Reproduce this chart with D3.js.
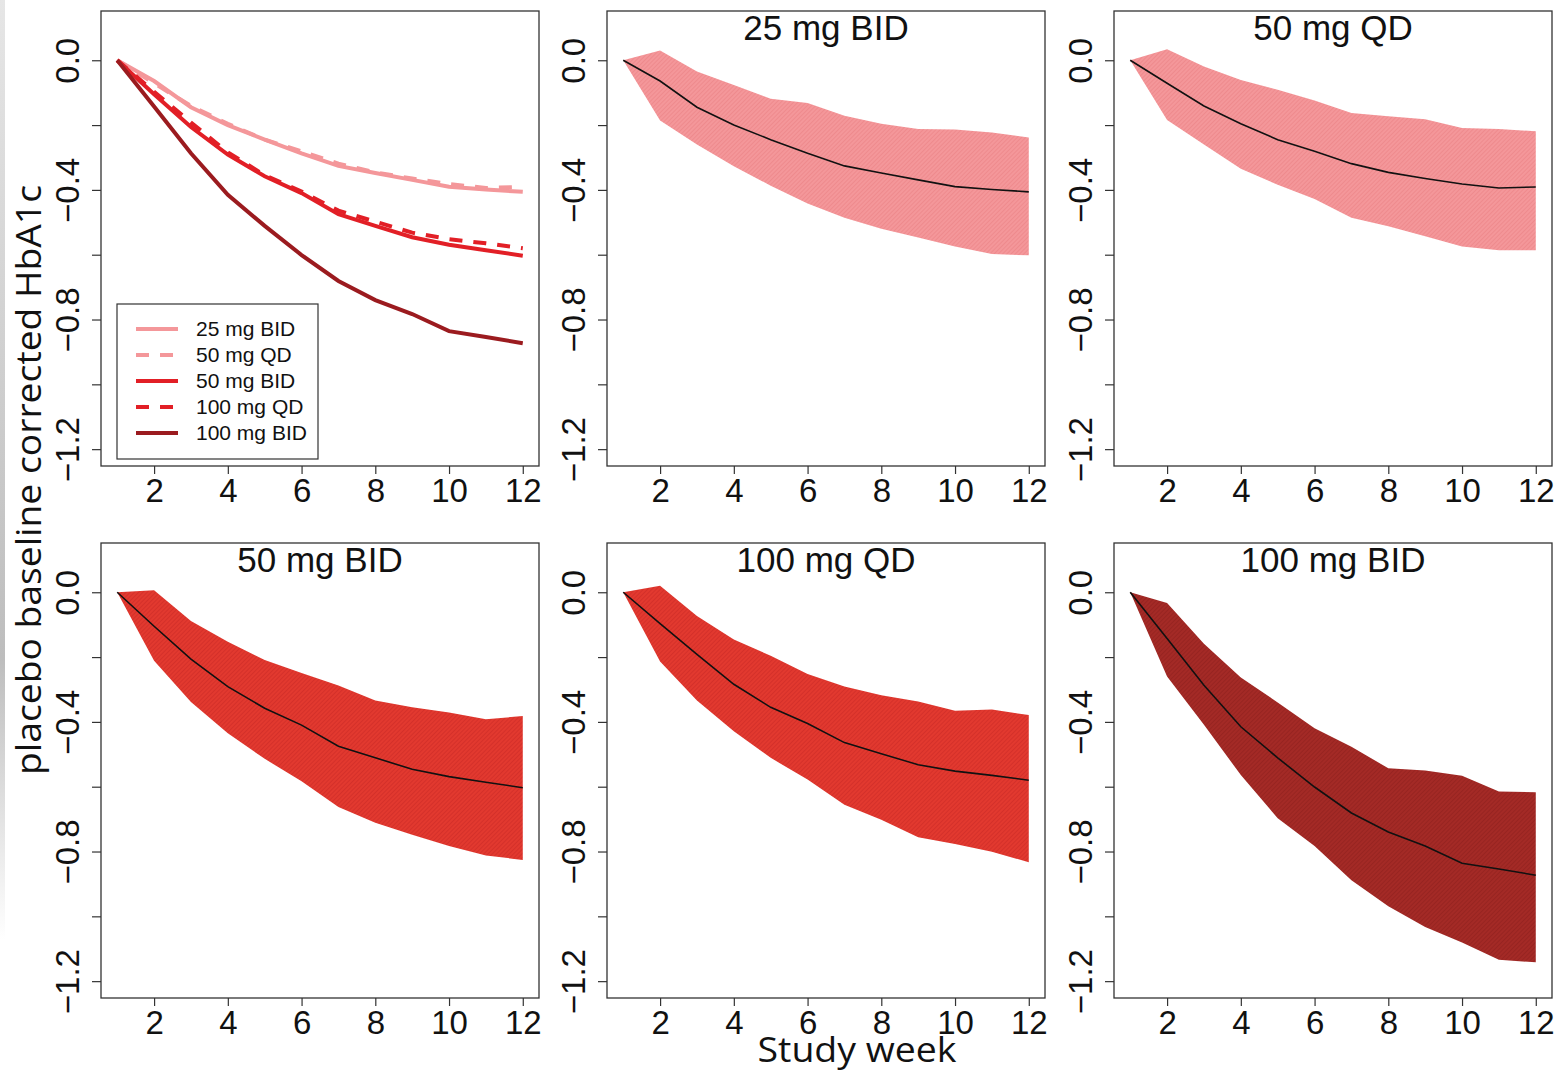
<!DOCTYPE html>
<html>
<head>
<meta charset="utf-8">
<script src="https://cdn.jsdelivr.net/npm/d3@7"></script>
<style>
  body { margin: 0; background: #fff; }
  svg { display: block; }
</style>
</head>
<body>
<div id="chart"></div>
<script>
// study weeks and tick values
var weeks = [1, 2, 3, 4, 5, 6, 7, 8, 9, 10, 11, 12];
var xTicks = [2, 4, 6, 8, 10, 12];
var yTicks = [0, -0.2, -0.4, -0.6, -0.8, -1.0, -1.2];

var doses = ["25 mg BID", "50 mg QD", "50 mg BID", "100 mg QD", "100 mg BID"];

// mean and band (lower / upper) per dose
var mean25BID  = [0, -0.064, -0.145, -0.200, -0.245, -0.287, -0.326, -0.348, -0.369, -0.390, -0.399, -0.406];
var upper25BID = [0, 0.030, -0.035, -0.076, -0.119, -0.132, -0.171, -0.196, -0.212, -0.214, -0.223, -0.238];
var lower25BID = [0, -0.186, -0.260, -0.327, -0.387, -0.442, -0.486, -0.520, -0.547, -0.575, -0.598, -0.602];

var mean50QD  = [0, -0.071, -0.141, -0.196, -0.245, -0.281, -0.319, -0.346, -0.365, -0.382, -0.394, -0.391];
var upper50QD = [0, 0.034, -0.019, -0.061, -0.091, -0.124, -0.163, -0.173, -0.182, -0.209, -0.212, -0.219];
var lower50QD = [0, -0.184, -0.260, -0.335, -0.384, -0.428, -0.486, -0.512, -0.543, -0.575, -0.586, -0.586];

var mean50BID  = [0, -0.105, -0.206, -0.291, -0.358, -0.410, -0.475, -0.511, -0.546, -0.569, -0.586, -0.603];
var upper50BID = [0, 0.006, -0.089, -0.153, -0.209, -0.249, -0.288, -0.334, -0.355, -0.371, -0.392, -0.382];
var lower50BID = [0, -0.211, -0.339, -0.435, -0.514, -0.583, -0.663, -0.711, -0.748, -0.783, -0.812, -0.826];

var mean100QD  = [0, -0.097, -0.192, -0.284, -0.355, -0.405, -0.464, -0.498, -0.532, -0.552, -0.565, -0.580];
var upper100QD = [0, 0.020, -0.073, -0.146, -0.196, -0.252, -0.291, -0.318, -0.337, -0.366, -0.362, -0.379];
var lower100QD = [0, -0.214, -0.334, -0.429, -0.511, -0.578, -0.656, -0.702, -0.756, -0.777, -0.801, -0.833];

var mean100BID  = [0, -0.143, -0.287, -0.415, -0.511, -0.601, -0.681, -0.740, -0.783, -0.836, -0.854, -0.873];
var upper100BID = [0, -0.033, -0.159, -0.263, -0.340, -0.420, -0.477, -0.543, -0.550, -0.566, -0.615, -0.617];
var lower100BID = [0, -0.260, -0.409, -0.564, -0.697, -0.783, -0.889, -0.969, -1.033, -1.081, -1.134, -1.142];

var means  = [mean25BID, mean50QD, mean50BID, mean100QD, mean100BID];
var uppers = [upper25BID, upper50QD, upper50BID, upper100QD, upper100BID];
var lowers = [lower25BID, lower50QD, lower50BID, lower100QD, lower100BID];

// styles
var lineColors = ["#F4979A", "#F4979A", "#E21F26", "#E21F26", "#9B1B1F"];
var lineDash   = [null, "13,11", null, "13,11", null];
var bandColors = ["#F4979A", "#F4979A", "#E2392F", "#E2392F", "#A42A26"];
var hatchColors = ["#EE8A8D", "#EE8A8D", "#D4302A", "#D4302A", "#972421"];

var W = 1556, H = 1071;
var panelW = 438, panelH = 455;
var colX = [101, 607, 1114];
var rowY = [11, 543];
var fontAxis = "'Liberation Sans', Arial, sans-serif";
var fontLab = "'Open Sans', 'Noto Sans', sans-serif";

var svg = d3.select("#chart").append("svg")
    .attr("width", W)
    .attr("height", H);

var defs = svg.append("defs");

// slide edge strip on the left
var grad = defs.append("linearGradient")
    .attr("id", "edge").attr("x1", 0).attr("y1", 0).attr("x2", 0).attr("y2", 1);
grad.append("stop").attr("offset", "0%").attr("stop-color", "#e6e6e6");
grad.append("stop").attr("offset", "70%").attr("stop-color", "#bdbdbd");
grad.append("stop").attr("offset", "100%").attr("stop-color", "#ffffff");
svg.append("rect")
    .attr("x", 0).attr("y", 0).attr("width", 5).attr("height", 940)
    .attr("fill", "url(#edge)");

// fine hatching inside the bands
bandColors.forEach(function(c, i) {
  var p = defs.append("pattern")
      .attr("id", "hatch" + i)
      .attr("patternUnits", "userSpaceOnUse")
      .attr("width", 3).attr("height", 3)
      .attr("patternTransform", "rotate(-45)");
  p.append("rect").attr("width", 3).attr("height", 3).attr("fill", c);
  p.append("line")
      .attr("x1", 0).attr("y1", 1.5).attr("x2", 3).attr("y2", 1.5)
      .attr("stroke", hatchColors[i]).attr("stroke-width", 1);
});

var x = d3.scaleLinear().domain([0.56, 12.44]).range([0, panelW]);
var y = d3.scaleLinear().domain([0.152, -1.252]).range([0, panelH]);

function fmtY(v) {
  var k = Math.round(v * 10);
  if (k % 4 !== 0) return "";
  return (v < 0 ? "\u2212" : "") + Math.abs(v).toFixed(1);
}

var line = d3.line()
    .x(function(d, i) { return x(weeks[i]); })
    .y(function(d) { return y(d); });

function drawPanel(col, row, title, body) {
  var g = svg.append("g")
      .attr("transform", "translate(" + colX[col] + "," + rowY[row] + ")");

  body(g);

  g.append("rect")
      .attr("width", panelW).attr("height", panelH)
      .attr("fill", "none").attr("stroke", "#333").attr("stroke-width", 1.3);

  // x axis
  var gx = g.append("g")
      .attr("transform", "translate(0," + panelH + ")")
      .call(d3.axisBottom(x).tickValues(xTicks).tickSize(8).tickSizeOuter(0).tickPadding(5));
  gx.select(".domain").remove();
  gx.selectAll("line").attr("stroke", "#333").attr("stroke-width", 1.2);
  gx.selectAll("text")
      .attr("dy", null).attr("y", 36)
      .style("font-family", fontAxis).style("font-size", "33px").attr("fill", "#111");

  // y axis, labels parallel to the axis as in R
  var gy = g.append("g")
      .call(d3.axisLeft(y).tickValues(yTicks).tickFormat(fmtY).tickSize(9).tickSizeOuter(0));
  gy.select(".domain").remove();
  gy.selectAll("line").attr("stroke", "#333").attr("stroke-width", 1.2);
  gy.selectAll("text")
      .attr("transform", "rotate(-90)")
      .attr("x", 0).attr("y", -22).attr("dy", null)
      .attr("text-anchor", "middle")
      .style("font-family", fontAxis).style("font-size", "33px").attr("fill", "#111");

  if (title) {
    g.append("text")
        .attr("x", panelW / 2).attr("y", 29)
        .attr("text-anchor", "middle")
        .style("font-family", fontAxis).style("font-size", "35px")
        .attr("fill", "#111")
        .text(title);
  }
}

// panel 1: all mean curves with legend
drawPanel(0, 0, null, function(g) {
  means.forEach(function(m, i) {
    g.append("path")
        .datum(m)
        .attr("d", line)
        .attr("fill", "none")
        .attr("stroke", lineColors[i])
        .attr("stroke-width", 4)
        .attr("stroke-dasharray", lineDash[i]);
  });

  var lg = g.append("g").attr("transform", "translate(16,293)");
  lg.append("rect")
      .attr("width", 201).attr("height", 155)
      .attr("fill", "#fff").attr("stroke", "#333").attr("stroke-width", 1.2);
  doses.forEach(function(d, i) {
    var yy = 25 + i * 26;
    lg.append("line")
        .attr("x1", 19).attr("x2", 61).attr("y1", yy).attr("y2", yy)
        .attr("stroke", lineColors[i]).attr("stroke-width", 4)
        .attr("stroke-dasharray", lineDash[i]);
    lg.append("text")
        .attr("x", 79).attr("y", yy + 7)
        .style("font-family", fontAxis).style("font-size", "21px")
        .attr("fill", "#111")
        .text(d);
  });
});

// one band panel per dose
var spots = [[1, 0], [2, 0], [0, 1], [1, 1], [2, 1]];
doses.forEach(function(d, i) {
  drawPanel(spots[i][0], spots[i][1], d, function(g) {
    var area = d3.area()
        .x(function(v, j) { return x(weeks[j]); })
        .y0(function(v, j) { return y(lowers[i][j]); })
        .y1(function(v, j) { return y(uppers[i][j]); });
    g.append("path")
        .datum(weeks)
        .attr("d", area)
        .attr("fill", "url(#hatch" + i + ")");
    g.append("path")
        .datum(means[i])
        .attr("d", line)
        .attr("fill", "none")
        .attr("stroke", "#111")
        .attr("stroke-width", 1.6);
  });
});

// shared axis titles
svg.append("text")
    .attr("transform", "translate(41,480) rotate(-90)")
    .attr("text-anchor", "middle")
    .attr("textLength", 590).attr("lengthAdjust", "spacingAndGlyphs")
    .style("font-family", fontLab).style("font-size", "35px")
    .attr("fill", "#111")
    .text("placebo baseline corrected HbA1c");

svg.append("text")
    .attr("x", 857).attr("y", 1062)
    .attr("text-anchor", "middle")
    .attr("textLength", 199).attr("lengthAdjust", "spacingAndGlyphs")
    .style("font-family", fontLab).style("font-size", "34px")
    .attr("fill", "#111")
    .text("Study week");
</script>
</body>
</html>
